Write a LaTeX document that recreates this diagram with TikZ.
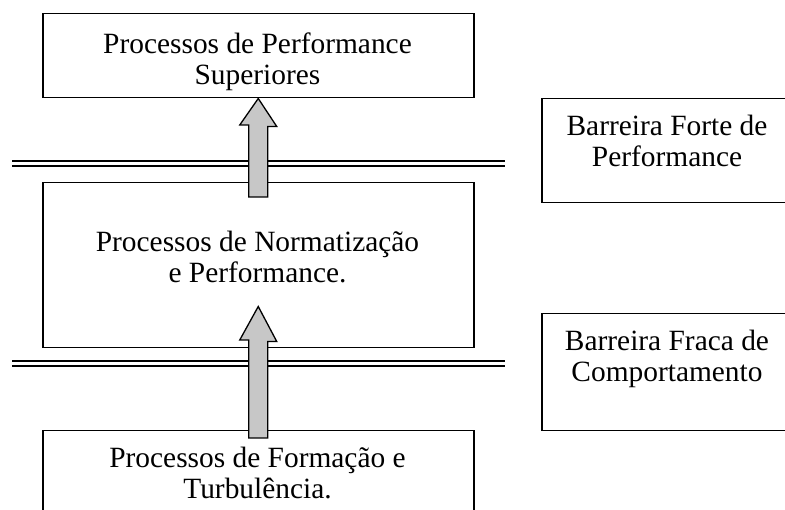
\documentclass[tikz,border=0pt]{standalone}
\usepackage{fontspec}
\setmainfont{Liberation Serif}
\usetikzlibrary{calc}

\tikzset{
  stagebox/.style={draw, line width=1.5pt, inner sep=0pt, anchor=north west,
    minimum width=431pt},
  sidebox/.style={draw, line width=1.5pt, inner sep=0pt, anchor=north west,
    minimum width=250pt},
  txt/.style={font=\fontsize{29.4}{31.5}\selectfont, align=center,
    anchor=base, inner sep=0pt},
  barrier/.style={draw, double, double distance=3pt, line width=1.6pt},
  bigarrow/.style={draw, line width=1.3pt, fill=black!22, line join=miter}
}

\begin{document}
\begin{tikzpicture}[x=1pt, y=-1pt]
  \clip (0,0) rectangle (785,510);
  \fill[white] (0,0) rectangle (785,510);

  % stage boxes
  \node[stagebox, minimum height=84pt]  (top) at (42,13)  {};
  \node[stagebox, minimum height=165pt] (mid) at (42,182) {};
  \node[stagebox, minimum height=120pt] (bot) at (42,430) {};

  % barrier boxes on the right
  \node[sidebox, minimum height=104pt] (strong) at (541,98)  {};
  \node[sidebox, minimum height=117pt] (weak)   at (541,313) {};

  % barrier lines
  \coordinate (b1l) at (12,163.5);  \coordinate (b1r) at (505,163.5);
  \coordinate (b2l) at (12,363.5);  \coordinate (b2r) at (505,363.5);
  \draw[barrier] (b1l) -- (b1r);
  \draw[barrier] (b2l) -- (b2r);

  % block arrows between the stages
  \coordinate (t1) at (top.south);
  \coordinate (t2) at ($(mid.south)+(0,-42)$);
  \draw[bigarrow] (t1) -- ++(18.5,28) -- ++(-9,0) |- ($(mid.north)+(-9.5,15)$)
    -- ++(0,-72) -- ++(-9,0) -- cycle;
  \draw[bigarrow] (t2) -- ++(18.5,35) -- ++(-9,0) |- ($(bot.north)+(-9.5,8)$)
    -- ++(0,-98) -- ++(-9,0) -- cycle;

  % texts (anchored at the baseline of the last line)
  \node[txt] (toptxt) at (257.5,85)  {Processos de Performance\\Superiores};
  \node[txt] (midtxt) at (257.5,283) {Processos de Normatização\\e Performance.};
  \node[txt] (bottxt) at (257.5,499) {Processos de Formação e\\Turbulência.};
  \node[txt] (strongtxt) at (667,167) {Barreira Forte de\\Performance};
  \node[txt] (weaktxt)   at (667,382) {Barreira Fraca de\\Comportamento};
\end{tikzpicture}
\end{document}
